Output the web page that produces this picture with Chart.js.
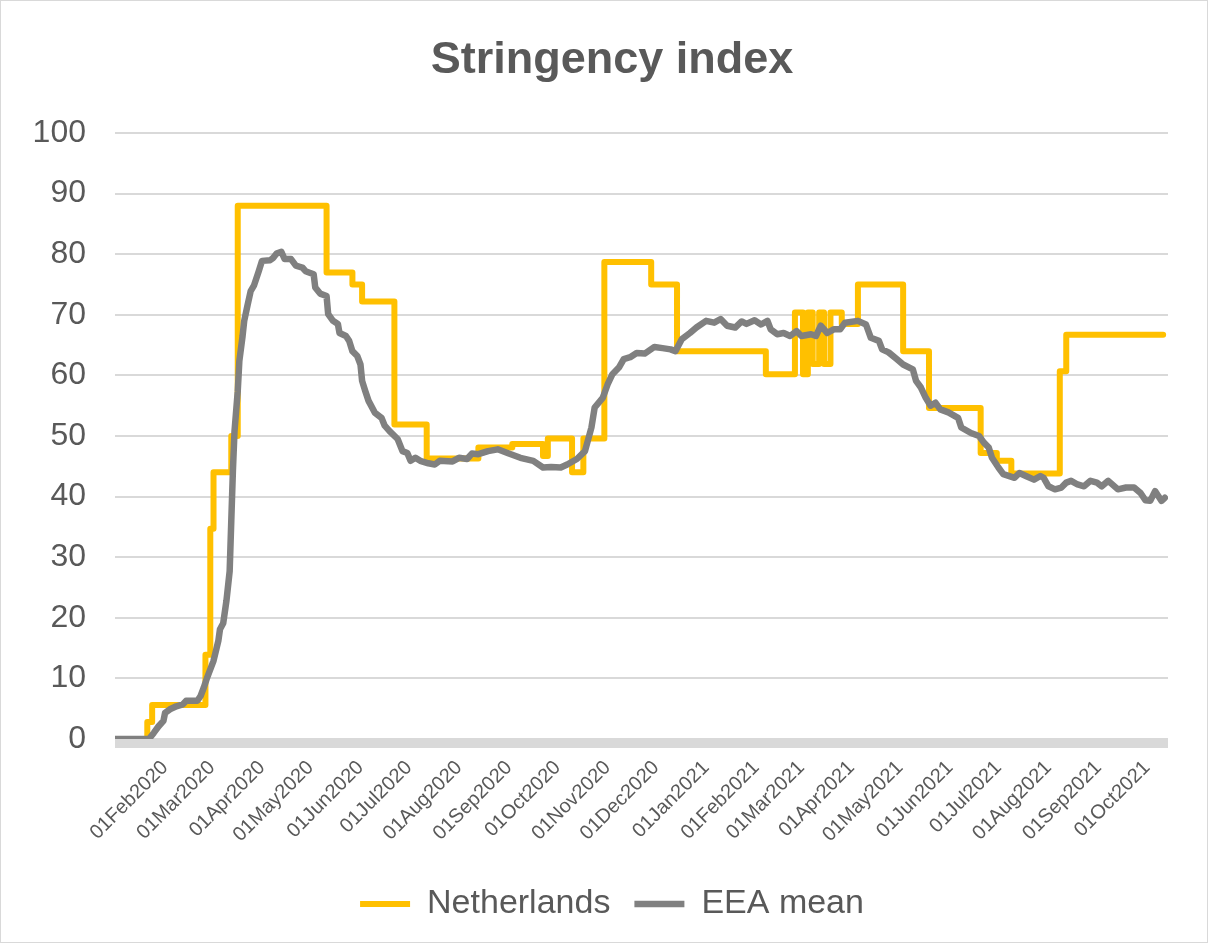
<!DOCTYPE html>
<html>
<head>
<meta charset="utf-8">
<title>Stringency index</title>
<script src="https://cdn.jsdelivr.net/npm/chart.js@4/dist/chart.umd.min.js"></script>
<style>
  body { margin: 0; background: #fff; }
  #wrap { width: 1208px; height: 943px; }
</style>
</head>
<body>
<div id="wrap"><canvas id="myChart"></canvas></div>
<script>
// x values are days since 01Jan2020
const tickLabels = ['01Feb2020', '01Mar2020', '01Apr2020', '01May2020', '01Jun2020', '01Jul2020',
  '01Aug2020', '01Sep2020', '01Oct2020', '01Nov2020', '01Dec2020', '01Jan2021', '01Feb2021',
  '01Mar2021', '01Apr2021', '01May2021', '01Jun2021', '01Jul2021', '01Aug2021', '01Sep2021', '01Oct2021'];

// Netherlands: days where the index changes, and the new value
const nlDays = [0, 20, 23, 56, 59, 61, 72, 76, 131, 147, 153, 173, 193, 225, 246, 265, 268, 283, 290,
  303, 332, 348, 403, 421, 426, 429, 432, 436, 439, 443, 450, 460, 488, 504, 536, 546, 555, 585, 589, 649];
const nlValues = [0, 2.8, 5.6, 13.9, 34.7, 44.0, 50.0, 88.0, 77.0, 75.0, 72.2, 51.9, 46.3, 48.1, 48.7, 46.7, 49.6, 44.0, 49.6,
  78.7, 75.0, 64.0, 60.2, 70.4, 60.2, 70.4, 61.9, 70.4, 61.9, 70.4, 68.5, 75.0, 64.0, 54.6, 47.2, 45.9, 43.8, 60.7, 66.7, 66.7];

// EEA mean
const eeaDays = [0, 21, 24, 27, 30, 31, 34, 38, 42, 44, 51, 53, 55, 57, 59, 61, 63, 64, 65, 67, 69, 71, 72, 73, 74, 76, 77,
  79, 80, 82, 84, 86, 89, 91, 96, 98, 100, 103, 105, 109, 112, 116, 118, 123, 124, 127, 131, 132, 135, 138, 139,
  143, 145, 147, 150, 152, 153, 155, 157, 161, 165, 167, 170, 175, 178, 181, 183, 186, 189, 194, 198, 201, 209,
  213, 218, 221, 225, 231, 237, 243, 251, 259, 265, 270, 276, 280, 286, 291, 295, 297, 302, 305, 308, 312, 315,
  319, 323, 328, 334, 339, 344, 347, 351, 356, 360, 366, 371, 375, 379, 384, 388, 391, 396, 400, 404, 406, 410,
  414, 418, 422, 425, 431, 434, 437, 441, 445, 449, 452, 460, 465, 468, 473, 475, 479, 484, 488, 494, 496, 499,
  502, 505, 508, 511, 516, 522, 524, 530, 535, 538, 541, 543, 547, 550, 557, 560, 564, 569, 573, 575, 578, 582,
  586, 589, 592, 596, 600, 604, 608, 611, 615, 621, 626, 631, 635, 638, 641, 644, 646, 648, 650];
const eeaValues = [0, 0, 1.0, 2.1, 3.0, 4.3, 4.9, 5.4, 5.7, 6.3, 6.3, 7.1, 8.5, 10.1, 11.5, 12.9, 15.1, 16.2, 18.1, 19.1, 22.8, 27.7, 36.0, 44.2, 50.8, 57.4, 62.4,
  66.5, 69.0, 71.5, 73.9, 74.8, 77.2, 78.9, 79.0, 79.4, 80.1, 80.4, 79.2, 79.2, 78.1, 77.8, 77.2, 76.7, 74.5, 73.5, 73.1, 70.1, 69.0, 68.5, 67.0,
  66.5, 65.7, 64.0, 63.2, 61.8, 59.1, 57.4, 55.8, 53.8, 53.0, 51.7, 50.8, 49.5, 47.5, 47.2, 45.9, 46.4, 45.9, 45.5, 45.3, 45.9, 45.8,
  46.4, 46.2, 47.1, 47.0, 47.5, 47.8, 47.2, 46.4, 45.9, 44.8, 44.9, 44.8, 45.3, 46.2, 47.5, 51.4, 54.7, 56.3, 58.5, 60.2, 61.3, 62.7,
  63.0, 63.7, 63.6, 64.7, 64.5, 64.3, 64.0, 66.0, 67.0, 67.9, 69.0, 68.7, 69.3, 68.2, 67.9, 68.9, 68.5, 69.1, 68.4, 69.0, 67.6, 66.8,
  67.0, 66.5, 67.3, 66.5, 66.8, 66.5, 68.2, 67.0, 67.6, 67.6, 68.7, 69.0, 68.4, 66.2, 65.7, 64.3, 63.8, 62.7, 61.8, 61.0, 59.1, 58.0,
  56.3, 55.0, 55.5, 54.4, 53.9, 53.0, 51.4, 50.5, 50.0, 48.9, 48.1, 46.4, 44.8, 43.7, 43.1, 43.9, 43.4, 42.8, 43.4, 43.1, 41.7, 41.2,
  41.5, 42.3, 42.6, 42.0, 41.7, 42.6, 42.3, 41.7, 42.6, 41.2, 41.5, 41.5, 40.6, 39.4, 39.3, 40.9, 40.1, 39.3, 39.8];

const monthIndex = {Jan: 0, Feb: 1, Mar: 2, Apr: 3, May: 4, Jun: 5, Jul: 6, Aug: 7, Sep: 8, Oct: 9, Nov: 10, Dec: 11};
function dayOf(label) {
  const d = +label.slice(0, 2), m = monthIndex[label.slice(2, 5)], y = +label.slice(5);
  return (Date.UTC(y, m, d) - Date.UTC(2020, 0, 1)) / 86400000;
}

const textColor = '#595959';
Chart.defaults.font.family = "'Liberation Sans', Arial, sans-serif";
Chart.defaults.color = textColor;

// thick light-grey horizontal axis + thin frame round the chart
const decor = {
  id: 'decor',
  beforeDatasetsDraw(chart) {
    const {ctx, chartArea, scales} = chart;
    const y0 = scales.y.getPixelForValue(0);
    ctx.save();
    ctx.fillStyle = '#D9D9D9';
    ctx.fillRect(chartArea.left, y0 - 1, chartArea.right - chartArea.left, 10);
    ctx.restore();
  },
  afterDraw(chart) {
    const ctx = chart.ctx;
    ctx.save();
    ctx.strokeStyle = '#D9D9D9';
    ctx.lineWidth = 1;
    ctx.strokeRect(0.5, 0.5, chart.width - 1, chart.height - 1);
    ctx.restore();
  }
};

const data = {
  datasets: [{
    label: 'Netherlands',
    data: nlDays.map((d, i) => ({x: d, y: nlValues[i]})),
    borderColor: '#FFC000',
    backgroundColor: '#FFC000',
    borderWidth: 6,
    stepped: true,
    yAxisID: 'y',
    order: 1
  }, {
    label: 'EEA mean',
    data: eeaDays.map((d, i) => ({x: d, y: eeaValues[i]})),
    borderColor: '#808080',
    backgroundColor: '#808080',
    borderWidth: 6.5,
    yAxisID: 'y',
    order: 0
  }]
};

const config = {
  type: 'line',
  data: data,
  plugins: [decor],
  options: {
    responsive: true,
    maintainAspectRatio: false,
    animation: false,
    layout: { padding: { top: 0, left: 16, right: 0, bottom: 12 } },
    elements: {
      point: { radius: 0 },
      line: { tension: 0, borderJoinStyle: 'round', borderCapStyle: 'round' }
    },
    scales: {
      x: {
        type: 'linear',
        min: 0,
        max: 652,
        afterBuildTicks: s => { s.ticks = tickLabels.map(l => ({value: dayOf(l)})); },
        afterFit: s => { s.height = 124; },
        grid: { display: false, drawTicks: false },
        border: { display: false },
        ticks: {
          autoSkip: false,
          minRotation: 45,
          maxRotation: 45,
          padding: 17,
          font: { size: 20 },
          color: textColor,
          callback: (v, i) => tickLabels[i]
        }
      },
      y: {
        min: 0,
        max: 100,
        afterFit: s => { s.width = 99; },
        grid: { color: '#D9D9D9', lineWidth: 2, drawTicks: false },
        border: { display: false },
        ticks: { stepSize: 10, padding: 29, font: { size: 32 }, color: textColor }
      },
      // empty right-hand margin
      yRight: {
        position: 'right',
        min: 0,
        max: 100,
        afterFit: s => { s.width = 40; },
        grid: { display: false, drawTicks: false },
        border: { display: false },
        ticks: { display: false }
      }
    },
    plugins: {
      title: {
        display: true,
        text: 'Stringency index',
        color: textColor,
        font: { size: 45, weight: 'bold' },
        padding: { top: 34, bottom: 45 }
      },
      legend: {
        position: 'bottom',
        labels: {
          usePointStyle: true,
          pointStyle: 'line',
          pointStyleWidth: 50,
          padding: 24,
          font: { size: 34 },
          color: textColor,
          sort: (a, b) => a.datasetIndex - b.datasetIndex
        }
      },
      tooltip: { enabled: false }
    }
  }
};

var myChart = new Chart(document.getElementById('myChart'), config);
</script>
</body>
</html>
